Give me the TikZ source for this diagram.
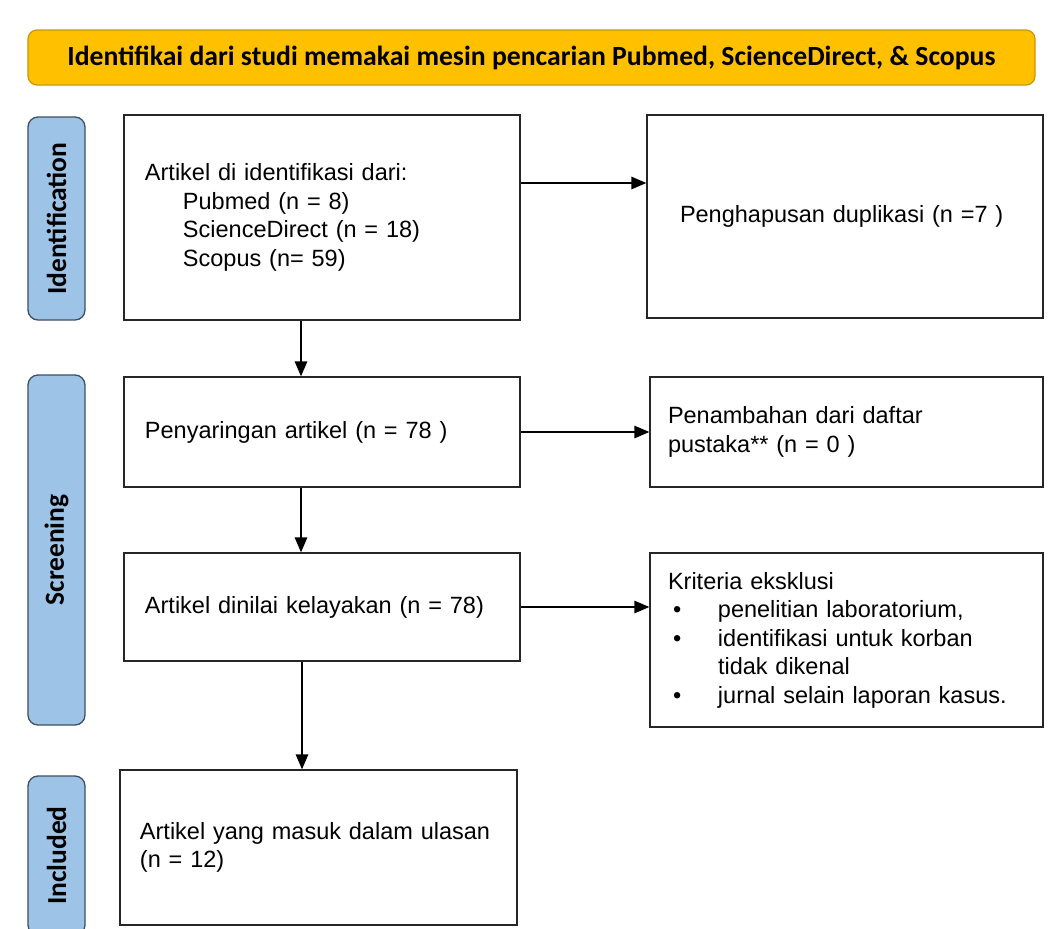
\documentclass[tikz,border=0pt]{standalone}
\usepackage{fontspec}
\setmainfont{Liberation Sans}
\newfontfamily\lblfont{Carlito}
\usetikzlibrary{arrows.meta,calc}
\definecolor{gold}{HTML}{FFC000}
\definecolor{golddark}{HTML}{C99A06}
\definecolor{lblue}{HTML}{9DC3E6}
\definecolor{lbluedark}{HTML}{3F4F63}
\begin{document}
\begin{tikzpicture}[x=1bp,y=-1bp,
  flowbox/.style={draw=black!85, line width=1.3bp, rectangle, align=left,
    font=\fontsize{23.5bp}{28.5bp}\selectfont, inner ysep=0pt, anchor=center},
  sidelbl/.style={draw=lbluedark, fill=lblue, line width=1.3bp, rounded corners=10bp,
    rotate=90, minimum height=57bp, inner sep=0pt, anchor=center,
    font=\lblfont\bfseries\fontsize{27.5bp}{30bp}\selectfont},
  arr/.style={line width=1.3bp, -{Triangle[length=15bp,width=12.5bp]}}]
\useasboundingbox (0,0) rectangle (1048,929);

% banner
\node[draw=golddark, fill=gold, line width=1.3bp, rounded corners=9bp,
  minimum width=1007bp, minimum height=55bp, inner sep=0pt,
  font=\lblfont\bfseries\fontsize{27.7bp}{30bp}\selectfont] (banner) at (531.5,57.5)
  {Identifikai dari studi memakai mesin pencarian Pubmed, ScienceDirect, \& Scopus};

% side labels
\node[sidelbl, minimum width=203bp] (idl) at (56.5,218.5) {Identification};
\node[sidelbl, minimum width=350bp] (scr) at (56.5,550) {Screening};
\node[sidelbl, minimum width=159bp] (inc) at (56.5,855.5) {Included};

% boxes
\node[flowbox, inner xsep=21bp, text width=354bp, minimum height=205bp] (b1) at (322,217.5)
  {Artikel di identifikasi dari:\\
   \hspace*{38bp}Pubmed (n = 8)\\
   \hspace*{38bp}ScienceDirect (n = 18)\\
   \hspace*{38bp}Scopus (n= 59)};
\node[flowbox, inner xsep=33bp, text width=330bp, minimum height=203bp] (b2) at (845,216.5)
  {Penghapusan duplikasi (n =7 )};
\node[flowbox, inner xsep=21bp, text width=354bp, minimum height=110bp] (b3) at (322,432)
  {Penyaringan artikel (n = 78 )};
\node[flowbox, inner xsep=18bp, text width=357bp, minimum height=110bp] (b4) at (846.5,432)
  {Penambahan dari daftar\\ pustaka** (n = 0 )};
\node[flowbox, inner xsep=21bp, text width=354bp, minimum height=108bp] (b5) at (322,607)
  {Artikel dinilai kelayakan (n = 78)};
\node[flowbox, inner xsep=18bp, text width=357bp, minimum height=174bp] (b6) at (846.5,640)
  {Kriteria eksklusi\\
   \makebox[50bp][l]{\hspace*{5bp}\textbullet}penelitian laboratorium,\\
   \makebox[50bp][l]{\hspace*{5bp}\textbullet}identifikasi untuk korban\\
   \hspace*{50bp}tidak dikenal\\
   \makebox[50bp][l]{\hspace*{5bp}\textbullet}jurnal selain laporan kasus.};
\node[flowbox, inner xsep=20bp, text width=357bp, minimum height=155bp] (b7) at (318.5,847.5)
  {Artikel yang masuk dalam ulasan\\ (n = 12)};

% connectors
\draw[arr] ([yshift=34.5bp]b1.east) -- ([yshift=34.5bp]b1.east -| b2.west);
\draw[arr] ([xshift=-21bp]b1.south) -- ([xshift=-21bp]b1.south |- b3.north);
\draw[arr] (b3.east) -- (b3.east -| b4.west);
\draw[arr] ([xshift=-21bp]b3.south) -- ([xshift=-21bp]b3.south |- b5.north);
\draw[arr] (b5.east) -- (b5.east -| b6.west);
\draw[arr] ([xshift=-20bp]b5.south) -- ([xshift=-20bp]b5.south |- b7.north);
\end{tikzpicture}
\end{document}
